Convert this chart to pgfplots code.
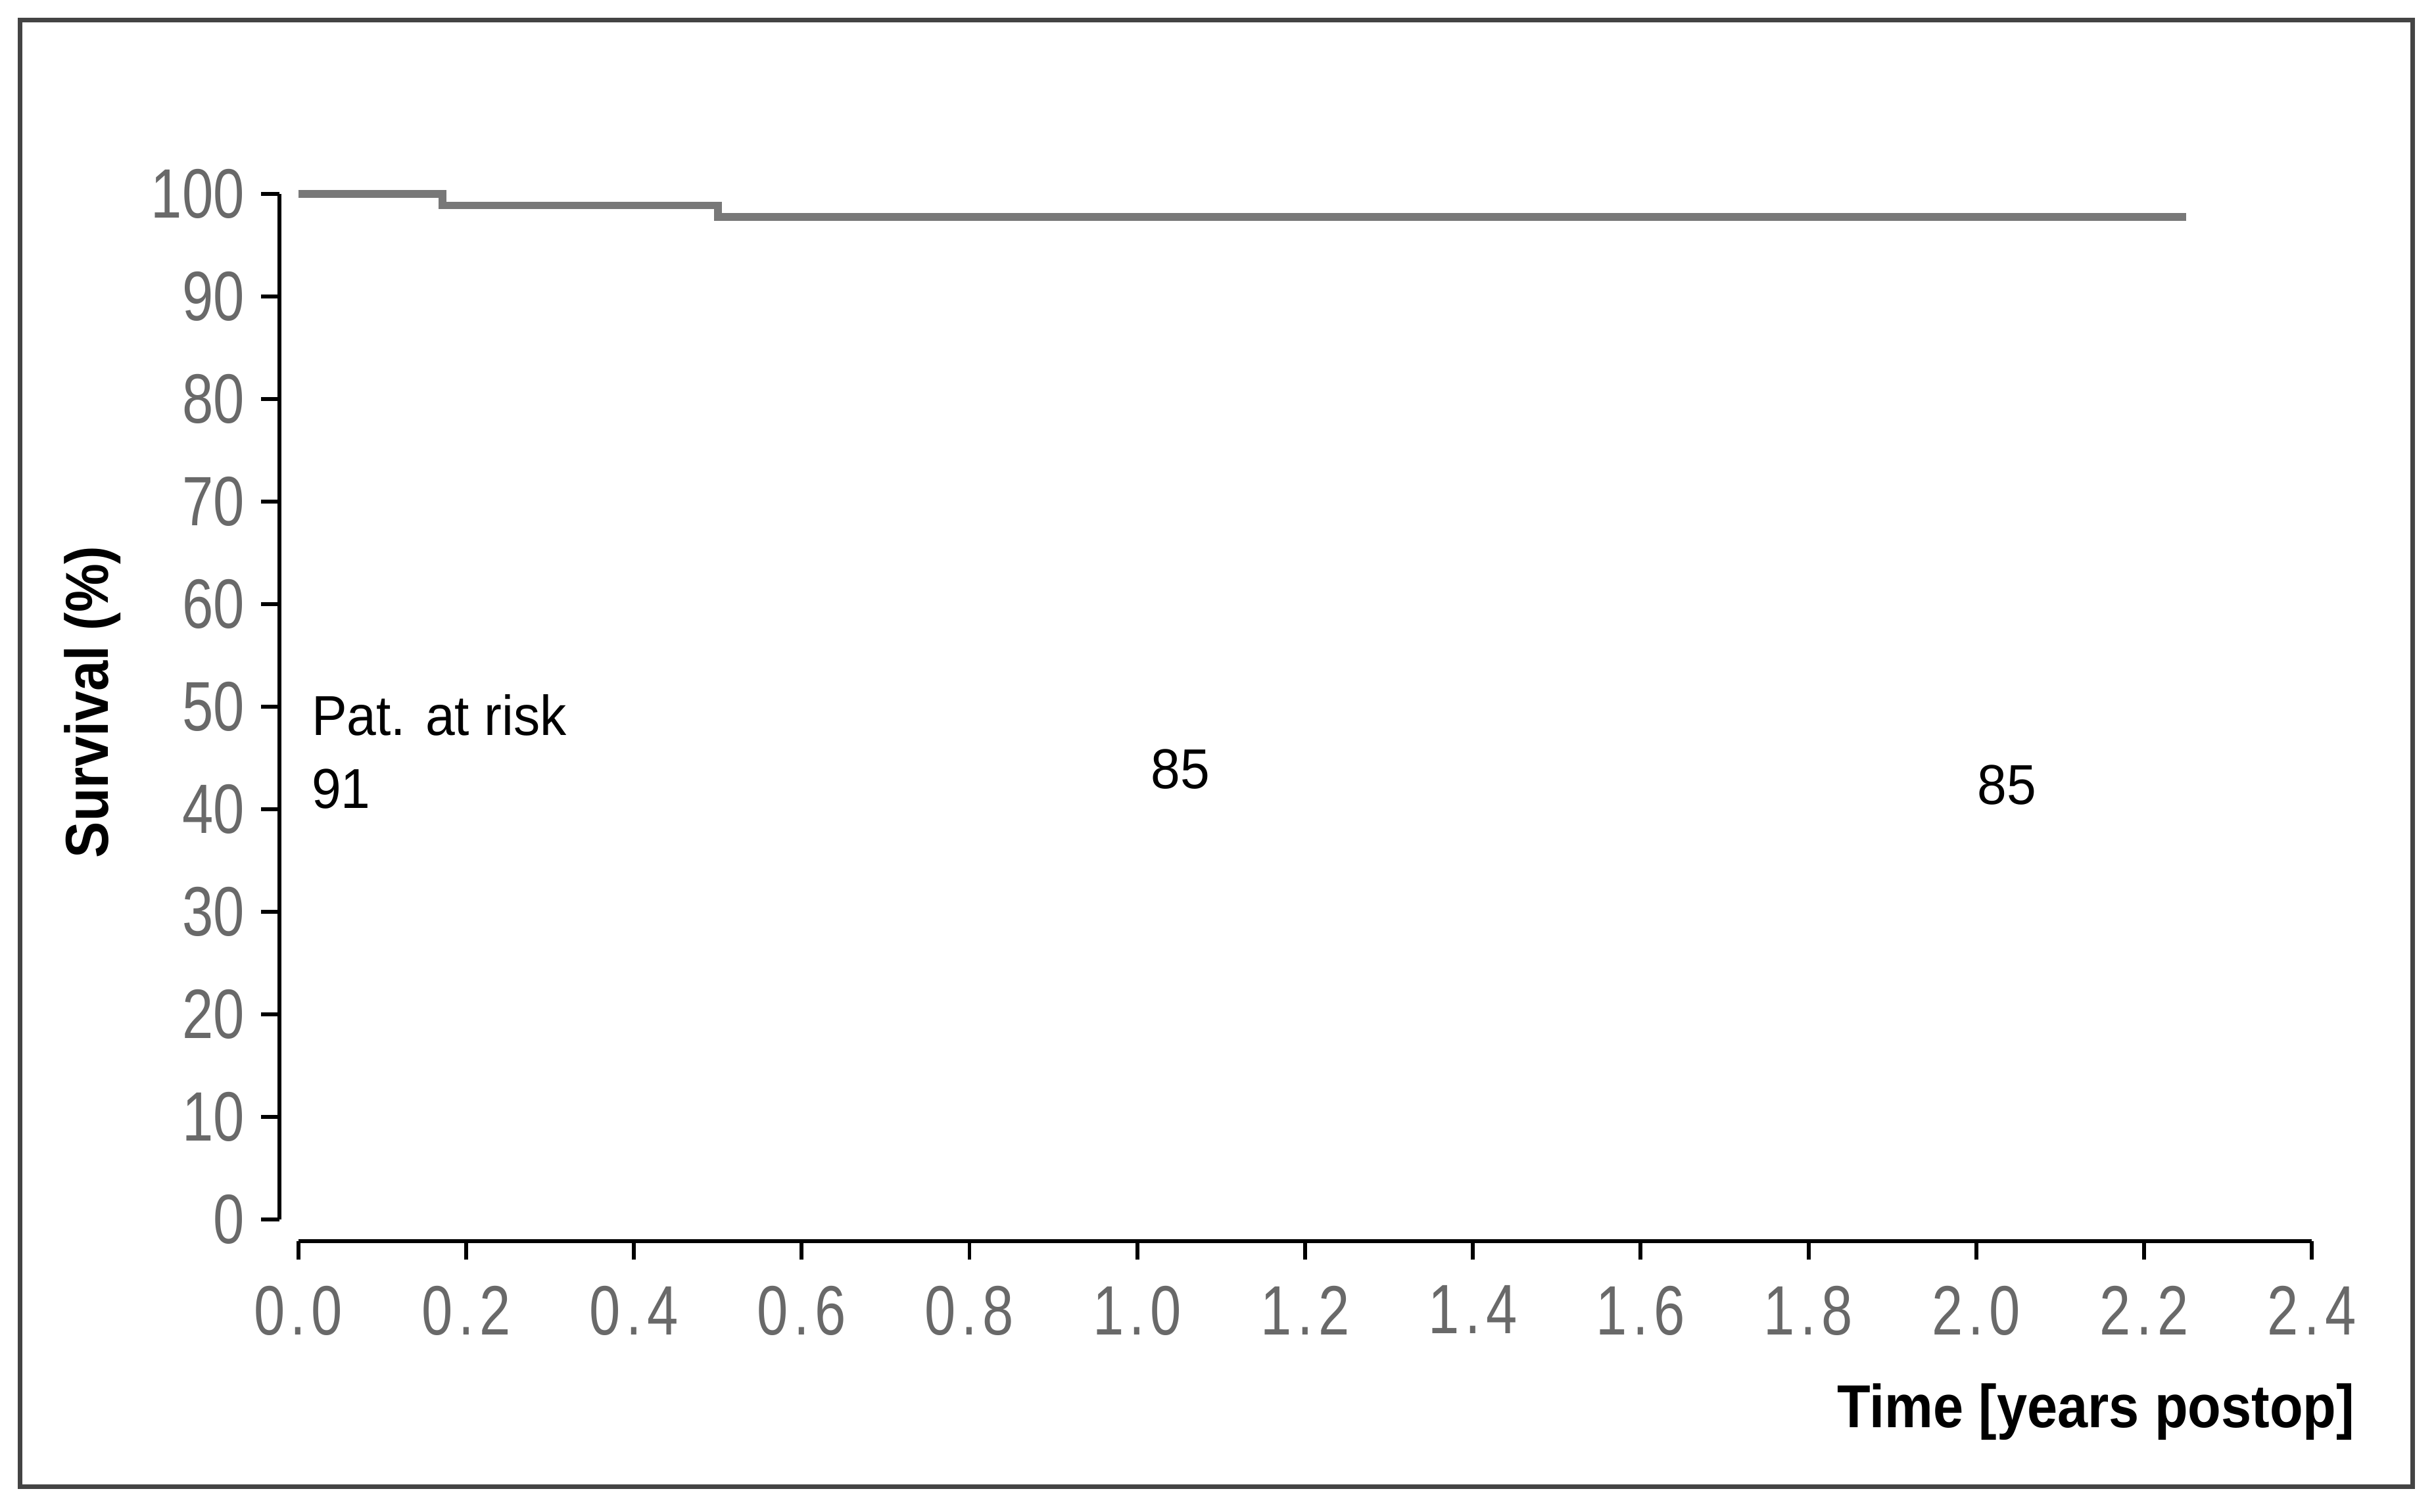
\documentclass[border=0pt]{standalone}
\usepackage{fontspec}
\setmainfont{Liberation Sans}
\newfontfamily\ticksfont[FakeStretch=0.8]{Liberation Sans}
\newfontfamily\xticksfont[FakeStretch=0.8, LetterSpace=8]{Liberation Sans}
\newfontfamily\labelfont[FakeStretch=0.9]{Liberation Sans}
\newfontfamily\notefont[FakeStretch=0.94]{Liberation Sans}
\usepackage{pgfplots}
\pgfplotsset{compat=1.18}
\definecolor{curvegray}{RGB}{120,120,120}
\definecolor{tickgray}{RGB}{105,105,105}
\definecolor{framegray}{RGB}{68,68,68}

\begin{document}
\begin{tikzpicture}
\begin{axis}[
    x=54mm, y=0.66mm,
    xmin=-0.0222, xmax=2.4,
    ymin=-2.12, ymax=100,
    axis lines=left,
    axis line style={draw=none},
    clip=false,
    xtick={0,0.2,0.4,0.6,0.8,1.0,1.2,1.4,1.6,1.8,2.0,2.2,2.4},
    xticklabels={0.0,0.2,0.4,0.6,0.8,1.0,1.2,1.4,1.6,1.8,2.0,2.2,2.4},
    ytick={0,10,20,30,40,50,60,70,80,90,100},
    tick align=outside,
    major tick length=1.2mm,
    tick style={black, line width=0.25mm},
    /pgf/number format/assume math mode=true,
    ticklabel style={text=tickgray, inner sep=0pt},
    yticklabel style={xshift=-1mm, font=\ticksfont\fontsize{12.8}{14}\selectfont},
    xticklabel style={yshift=-1.6mm, font=\xticksfont\fontsize{12.8}{14}\selectfont},
    ylabel={Survival (\%)},
    ylabel style={at={(rel axis cs:-0.092,0.515)}, anchor=center, font=\labelfont\bfseries\fontsize{11.1}{13}\selectfont},
    xlabel={Time [years postop]},
    xlabel style={at={(rel axis cs:1.0306,-0.163)}, anchor=east, font=\labelfont\bfseries\fontsize{11.1}{13}\selectfont},
  ]
  % page and frame
  \path (axis cs:-0.3556,-28.48) rectangle (axis cs:2.548,118.94);
  \draw[framegray, line width=0.3mm] (axis cs:-0.3315,-26.06) rectangle (axis cs:2.5204,116.97);
  % detached axis lines
  \draw[black, line width=0.25mm] (axis cs:-0.0222,0) -- (axis cs:-0.0222,100);
  \draw[black, line width=0.25mm] (axis cs:0,-2.12) -- (axis cs:2.4,-2.12);

  \addplot[const plot, color=curvegray, line width=0.5mm] coordinates {
    (0,100) (0.172,98.9) (0.5,97.8) (2.25,97.8)
  };

  \node[anchor=west, font=\notefont\fontsize{10.3}{12}\selectfont, inner sep=0pt] at (axis cs:0.0148,49.2) {Pat. at risk};
  \node[anchor=west, font=\notefont\fontsize{10.3}{12}\selectfont, inner sep=0pt] at (axis cs:0.0148,42.0) {91};
  \node[anchor=west, font=\notefont\fontsize{10.3}{12}\selectfont, inner sep=0pt] at (axis cs:1.015,43.9) {85};
  \node[anchor=west, font=\notefont\fontsize{10.3}{12}\selectfont, inner sep=0pt] at (axis cs:2.0,42.4) {85};
\end{axis}
\end{tikzpicture}
\end{document}
